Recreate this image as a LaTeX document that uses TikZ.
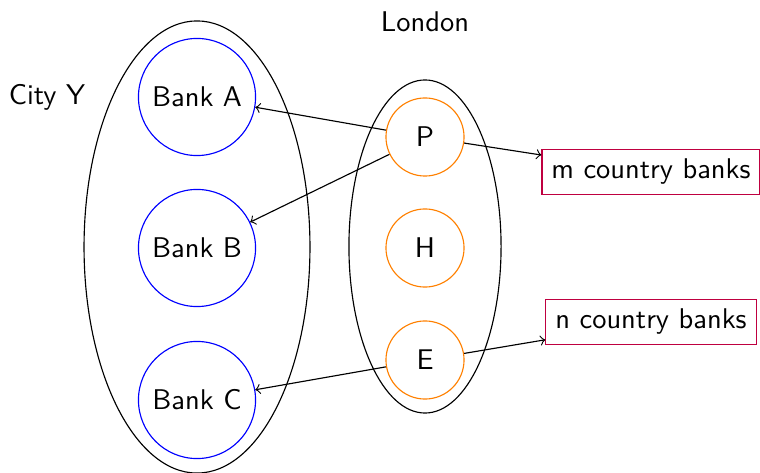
\documentclass[tikz,border=0pt]{standalone}
\usetikzlibrary{shapes.geometric}
\begin{document}
\begin{tikzpicture}[x=0.351pt,y=-0.351pt,font=\sffamily,
  bank/.style={circle,draw=blue,minimum size=41.1pt,inner sep=0pt},
  office/.style={circle,draw=orange,minimum size=27.4pt,inner sep=0pt},
  group/.style={ellipse,draw,inner sep=0pt},
  outside/.style={rectangle,draw=purple},
  link/.style={->}]
\useasboundingbox (0,0) rectangle (760,473);

% City Y and its banks
\node[group,minimum width=79.3pt,minimum height=158.7pt] (city) at (197,247) {};
\node[bank] (A) at (197,97) {Bank A};
\node[bank] (B) at (197,248) {Bank B};
\node[bank] (C) at (197,400) {Bank C};
\node (cityname) at (47,97) {City Y};

% London and its houses
\node[group,minimum width=53.4pt,minimum height=116.9pt] (london) at (425,246.5) {};
\node[office] (P) at (425,137) {P};
\node[office] (H) at (425,248) {H};
\node[office] (E) at (425,360) {E};
\node (londonname) at (425,22) {London};

% country banks
\node[outside] (m) at (651,172) {m country banks};
\node[outside] (n) at (651,322) {n country banks};

% links
\draw[link] (P) -- (A);
\draw[link] (P) -- (B);
\draw[link] (E) -- (C);
\draw[link] (P) -- (m);
\draw[link] (E) -- (n);
\end{tikzpicture}
\end{document}
